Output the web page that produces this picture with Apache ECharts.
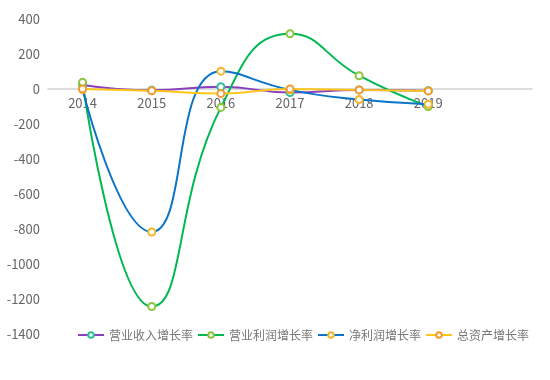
<!DOCTYPE html>
<html>
<head>
<meta charset="utf-8">
<script src="https://cdn.jsdelivr.net/npm/echarts@6/dist/echarts.min.js"></script>
<style>
  html, body { margin: 0; padding: 0; background: #fff; }
  #main { width: 550px; height: 380px; }
</style>
</head>
<body>
<div id="main"></div>
<script>
// 年份（最后一个留空，保持与原图相同的间距）
const years = ['2014', '2015', '2016', '2017', '2018', '2019', ''];
const seriesNames = ['营业收入增长率', '营业利润增长率', '净利润增长率', '总资产增长率'];
const revenueGrowth = [23, -7, 13, -20, -5, -10];
const opProfitGrowth = [38, -1243, -105, 316, 76, -100];
const netProfitGrowth = [-3, -817, 102, -5, -60, -87];
const assetGrowth = [0, -10, -25, 0, -5, -11];
const yTicks = { min: -1400, max: 400, interval: 200 };

const lineColors = ['#8a3fc0', '#00b852', '#0a74c8', '#ffc61a'];
const symbolColors = ['#2fbf98', '#8cc63e', '#f2b728', '#f59a2c'];
const allData = [revenueGrowth, opProfitGrowth, netProfitGrowth, assetGrowth];

const gridTop = 19, gridBottom = 46, gridH = 380 - gridTop - gridBottom;
// 把 x 轴（含标签）放到 0 的位置
const zeroOffset = gridH * (0 - yTicks.min) / (yTicks.max - yTicks.min);

const chart = echarts.init(document.getElementById('main'));
chart.setOption({
  animation: false,
  textStyle: { fontFamily: '"Noto Sans CJK SC", "Noto Sans", sans-serif' },
  grid: { left: 48, right: 18, top: gridTop, bottom: gridBottom },
  legend: {
    right: 16,
    bottom: 34,
    itemGap: 4,
    itemWidth: 26,
    itemHeight: 7,
    textStyle: { color: '#777', fontSize: 12 },
    data: seriesNames
  },
  xAxis: {
    type: 'category',
    data: years,
    offset: -zeroOffset,
    axisLine: { onZero: false, lineStyle: { color: '#ddd', width: 2 } },
    axisTick: { show: false },
    axisLabel: { color: '#666', fontSize: 13, margin: 8 }
  },
  yAxis: {
    type: 'value',
    min: yTicks.min,
    max: yTicks.max,
    interval: yTicks.interval,
    axisLine: { show: false },
    axisTick: { show: false },
    splitLine: { show: false },
    axisLabel: { color: '#666', fontSize: 13, margin: 8, formatter: v => String(v) }
  },
  series: seriesNames.map((name, i) => ({
    name: name,
    type: 'line',
    smooth: true,
    data: allData[i],
    symbol: 'emptyCircle',
    symbolSize: 7,
    lineStyle: { color: lineColors[i], width: 2 },
    itemStyle: { color: symbolColors[i], borderColor: symbolColors[i], borderWidth: 1.5 }
  }))
});
</script>
</body>
</html>
